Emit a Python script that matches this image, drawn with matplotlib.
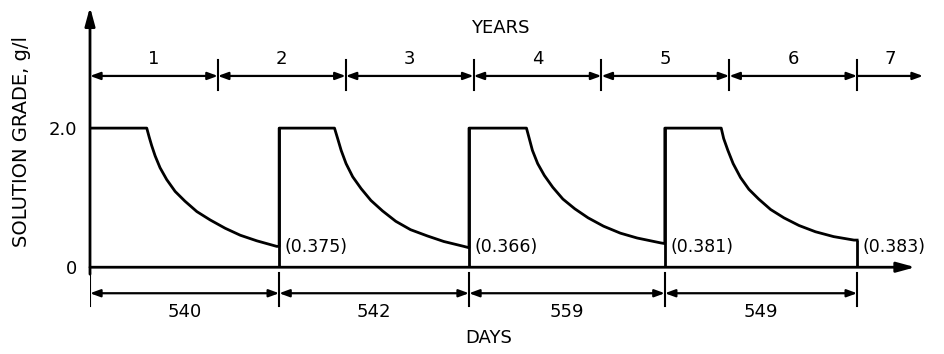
import matplotlib
matplotlib.use("Agg")
import matplotlib.pyplot as plt

# data
cycle_days = [540, 542, 559, 549]
end_labels = ["(0.375)", "(0.366)", "(0.381)", "(0.383)"]
year_labels = ["1", "2", "3", "4", "5", "6", "7"]
year_length = 365
peak_grade = 2.0

# decay part of each cycle: days from cycle start, grade in g/l
decay_days = [
    [162, 169, 176, 186, 200, 219, 243, 271, 305, 343, 386, 429, 476, 533, 540],
    [158, 167, 177, 191, 210, 234, 262, 295, 333, 375, 423, 470, 527, 542],
    [164, 172, 181, 196, 215, 239, 268, 302, 340, 384, 432, 480, 547, 559],
    [161, 168, 180, 195, 216, 240, 268, 302, 340, 383, 430, 482, 540, 549],
]
decay_grade = [
    [2.0, 1.87, 1.75, 1.60, 1.43, 1.26, 1.09, 0.95, 0.80, 0.68, 0.56, 0.46, 0.38, 0.30, 0.30],
    [2.0, 1.85, 1.68, 1.49, 1.30, 1.13, 0.96, 0.81, 0.66, 0.54, 0.45, 0.37, 0.30, 0.28],
    [2.0, 1.85, 1.68, 1.49, 1.32, 1.15, 0.98, 0.84, 0.71, 0.59, 0.49, 0.42, 0.35, 0.34],
    [2.0, 1.85, 1.68, 1.49, 1.29, 1.12, 0.98, 0.83, 0.71, 0.60, 0.51, 0.44, 0.39, 0.39],
]

FONT = "DejaVu Sans"
plt.rcParams["font.family"] = FONT

fig = plt.figure(figsize=(9.44, 3.54), dpi=100)
ax = fig.add_axes([90 / 944, 4 / 354, 840 / 944, 345 / 354])
ax.set_xlim(0, 2398)
ax.set_ylim(-1.19, 3.77)
for s in ax.spines.values():
    s.set_visible(False)
ax.set_xticks([])
ax.set_yticks([0, peak_grade])
ax.set_yticklabels(["0", "2.0"], fontsize=13)
ax.tick_params(axis="y", length=0, pad=9)

# cycle boundaries
starts = [0]
for d in cycle_days:
    starts.append(starts[-1] + d)

# solution grade curve
xs, ys = [0], [peak_grade]
for i in range(len(cycle_days)):
    xs.append(starts[i])
    ys.append(peak_grade)
    for d, g in zip(decay_days[i], decay_grade[i]):
        xs.append(starts[i] + d)
        ys.append(g)
ax.plot(xs, ys, color="black", lw=2.0, solid_joinstyle="round")
ax.vlines(starts[1:], 0, [peak_grade] * 3 + [decay_grade[-1][-1]], color="black", lw=2.0)

# end values
for i, lab in enumerate(end_labels):
    ax.text(starts[i + 1] + 15, 0.29, lab, fontsize=12.5, ha="left", va="center")

# axes with arrows
ax.annotate("", xy=(0, 3.74), xytext=(0, -0.1),
            arrowprops=dict(arrowstyle="-|>,head_length=1.1,head_width=0.3",
                            lw=2, color="black", shrinkA=0, shrinkB=0))
ax.annotate("", xy=(2356, 0), xytext=(0, 0),
            arrowprops=dict(arrowstyle="-|>,head_length=1.1,head_width=0.3",
                            lw=2, color="black", shrinkA=0, shrinkB=0))

arrow_small = "<|-|>,head_length=0.6,head_width=0.22"

# years dimension line
y_year = 2.75
year_end = 2378
for k, lab in enumerate(year_labels):
    x0 = k * year_length
    x1 = min((k + 1) * year_length, year_end)
    style = arrow_small if x1 < year_end else "<|-,head_length=0.6,head_width=0.22"
    ax.annotate("", xy=(x0, y_year), xytext=(x1, y_year),
                arrowprops=dict(arrowstyle=style, lw=1.6, color="black",
                                shrinkA=0, shrinkB=0))
    if k > 0:
        ax.plot([x0, x0], [2.55, 2.98], color="black", lw=1.5)
    ax.text((x0 + x1) / 2, 3.0, lab, fontsize=13, ha="center", va="center")
ax.text(1171, 3.44, "YEARS", fontsize=13, ha="center", va="center")

# days dimension line
y_day = -0.374
for i, d in enumerate(cycle_days):
    ax.annotate("", xy=(starts[i], y_day), xytext=(starts[i + 1], y_day),
                arrowprops=dict(arrowstyle=arrow_small, lw=1.6, color="black",
                                shrinkA=0, shrinkB=0))
    ax.text(starts[i] + d / 2, -0.64, str(d), fontsize=13, ha="center", va="center")
for x in starts:
    ax.plot([x, x], [-0.09, -0.56], color="black", lw=1.5)
ax.text(1139, -1.02, "DAYS", fontsize=13, ha="center", va="center")

fig.text(22 / 944, 1 - 141 / 354, "SOLUTION GRADE, g/l", rotation=90,
         fontsize=14, ha="center", va="center")

fig.savefig("out.png", dpi=100)
